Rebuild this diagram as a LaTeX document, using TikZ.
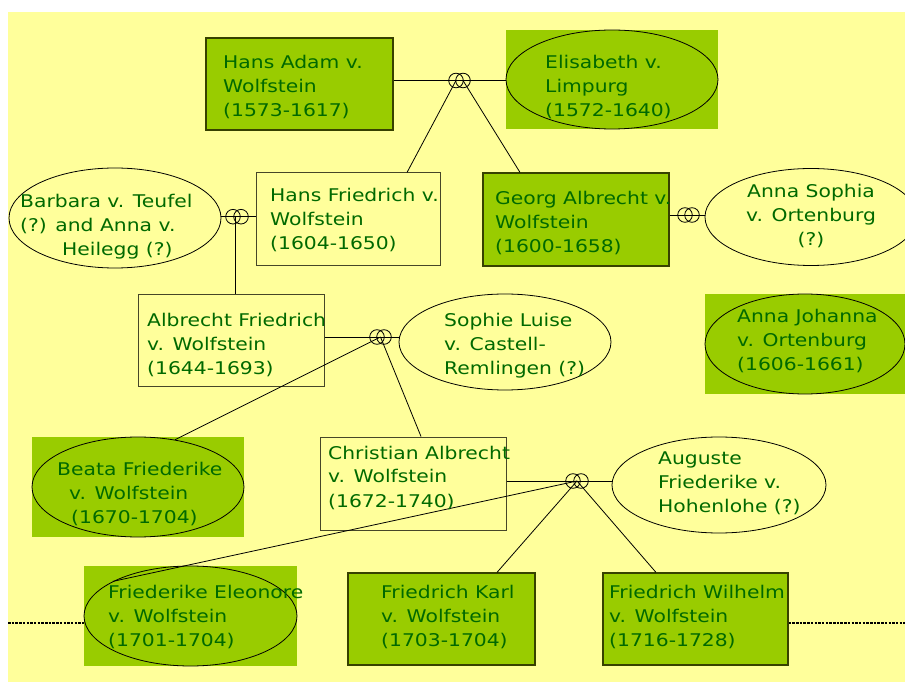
\documentclass[tikz,border=0pt]{standalone}
\usepackage{fontspec}
\setmainfont{DejaVu Sans}[FakeStretch=1.16]
\usetikzlibrary{shapes.geometric,calc}
\definecolor{bgy}{RGB}{255,255,155}
\definecolor{lgreen}{RGB}{153,204,0}
\definecolor{tgreen}{RGB}{0,105,0}
\definecolor{bdr}{RGB}{55,65,0}
\definecolor{gbdr}{RGB}{70,70,40}
\tikzset{
 txt/.style={inner sep=0pt, align=left, text=tgreen, font=\fontsize{17.5}{24}\selectfont},
 gbox/.style={draw=bdr, line width=1.2pt, fill=lgreen, inner sep=0pt, rectangle},
 pbox/.style={draw=gbdr, line width=1pt, inner sep=0pt, rectangle},
 gbg/.style={fill=lgreen, inner sep=0pt, rectangle},
 oval/.style={draw=black, line width=0.8pt, ellipse, inner sep=0pt},
 ring/.style={draw=black, line width=0.8pt, circle, inner sep=0pt, minimum size=14.6pt},
 conn/.style={draw=black, line width=0.8pt},
 dline/.style={draw=black, line width=1.5pt, dash pattern=on 2.5pt off 1.2pt},
}
\begin{document}
\begin{tikzpicture}[x=1pt,y=-1pt]
\useasboundingbox (0,0) rectangle (905,684);
\fill[white] (0,0) rectangle (905,684);
\fill[bgy] (8,12) rectangle (905,682);

% shapes
\node[gbox, minimum width=187pt, minimum height=92pt] (hansadam) at (299.5,84) {};
\node[gbg, minimum width=212pt, minimum height=99pt] (elisabethbg) at (612,79.5) {};
\node[oval, minimum width=212pt, minimum height=99pt] (elisabeth) at (612,79.5) {};
\node[pbox, minimum width=184pt, minimum height=93pt] (hansfriedrich) at (348,219.5) {};
\node[gbox, minimum width=186pt, minimum height=93pt] (georg) at (576,219.5) {};
\node[oval, minimum width=212pt, minimum height=97pt] (annasophia) at (811,217) {};
\node[gbg, minimum width=200pt, minimum height=100pt] (annajohannabg) at (805,344) {};
\node[oval, minimum width=200pt, minimum height=100pt] (annajohanna) at (805,344) {};
\node[oval, minimum width=212pt, minimum height=100pt] (barbara) at (115,218) {};
\node[pbox, minimum width=186pt, minimum height=92pt] (albrecht) at (231,341) {};
\node[oval, minimum width=212pt, minimum height=96pt] (sophie) at (505,342) {};
\node[gbg, minimum width=212pt, minimum height=100pt] (beatabg) at (138,487) {};
\node[oval, minimum width=212pt, minimum height=100pt] (beata) at (138,487) {};
\node[pbox, minimum width=186pt, minimum height=93pt] (christian) at (413,483.5) {};
\node[oval, minimum width=214pt, minimum height=96pt] (auguste) at (719,485) {};
\node[gbg, minimum width=213pt, minimum height=100pt] (febg) at (190.5,616) {};
\node[oval, minimum width=213pt, minimum height=100pt] (fe) at (190.5,616) {};
\node[gbox, minimum width=187pt, minimum height=92pt] (fk) at (441.5,619) {};
\node[gbox, minimum width=185pt, minimum height=92pt] (fw) at (695.5,619) {};

% marriage symbols
\node[ring] (m1a) at (456,80.5) {};
\node[ring] (m1b) at (463,80.5) {};
\node[ring] (m2a) at (233,216.7) {};
\node[ring] (m2b) at (241,216.7) {};
\coordinate (m2) at (235,216.7);
\node[ring] (m3a) at (685,215) {};
\node[ring] (m3b) at (692,215) {};
\node[ring] (m4a) at (377,337) {};
\node[ring] (m4b) at (384,337) {};
\coordinate (m4) at (380.5,337);
\node[ring] (m5a) at (573,481) {};
\node[ring] (m5b) at (581,481) {};
\coordinate (m5) at (577,481);

% connectors
\draw[conn] (hansadam.east |- m1a) -- (elisabeth.west |- m1a);
\draw[conn] (m1a.center) -- ([xshift=59pt]hansfriedrich.north);
\draw[conn] (m1b.center) -- ([xshift=-56pt]georg.north);
\draw[conn] (barbara.east |- m2a) -- (hansfriedrich.west |- m2a);
\draw[conn] (m2) -- (m2 |- albrecht.north);
\draw[conn] (georg.east |- m3a) -- (annasophia.west |- m3a);
\draw[conn] (albrecht.east |- m4a) -- (sophie.west |- m4a);
\draw[conn] (m4) -- (beata.52);
\draw[conn] (m4) -- ([xshift=8pt]christian.north);
\draw[conn] (christian.east |- m5a) -- (auguste.west |- m5a);
\draw[conn] (m5) -- (fe.156);
\draw[conn] (m5) -- ([xshift=55.5pt]fk.north);
\draw[conn] (m5) -- ([xshift=-39.5pt]fw.north);
\coordinate (dl) at (8,623);
\coordinate (dr) at (905,623);
\draw[dline] (dl) -- (febg.west |- dl);
\draw[dline] (fw.east |- dr) -- (dr);

% texts (base anchor = baseline of last line)
\node[txt, anchor=base west] (t1) at (223,117) {Hans Adam v.\\Wolfstein\\(1573-1617)};
\node[txt, anchor=base west] (t2) at (545,117) {Elisabeth v.\\Limpurg\\(1572-1640)};
\node[txt, anchor=base west] (t3) at (270,250) {Hans Friedrich v.\\Wolfstein\\(1604-1650)};
\node[txt, anchor=base west] (t4) at (495,253) {Georg Albrecht v.\\Wolfstein\\(1600-1658)};
\node[txt, align=center, anchor=base] (t5) at (811,246) {Anna Sophia\\v. Ortenburg\\(?)};
\node[txt, anchor=base west] (t6) at (737,371) {Anna Johanna\\v. Ortenburg\\(1606-1661)};
\node[txt, anchor=base west] (t7) at (20,256) {Barbara v. Teufel\\(?) and Anna v.\\\hspace*{42pt}Heilegg (?)};
\node[txt, anchor=base west] (t8) at (147,375) {Albrecht Friedrich\\v. Wolfstein\\(1644-1693)};
\node[txt, anchor=base west] (t9) at (444,375) {Sophie Luise\\v. Castell-\\Remlingen (?)};
\node[txt, anchor=base west] (t10) at (57,523) {Beata Friederike\\\hspace*{12pt}v. Wolfstein\\\hspace*{14pt}(1670-1704)};
\node[txt, anchor=base west] (t11) at (328,507) {Christian Albrecht\\v. Wolfstein\\(1672-1740)};
\node[txt, anchor=base west] (t12) at (658,512) {Auguste\\Friederike v.\\Hohenlohe (?)};
\node[txt, anchor=base west] (t13) at (108,646) {Friederike Eleonore\\v. Wolfstein\\(1701-1704)};
\node[txt, anchor=base west] (t14) at (381,646) {Friedrich Karl\\v. Wolfstein\\(1703-1704)};
\node[txt, anchor=base west] (t15) at (609,646) {Friedrich Wilhelm\\v. Wolfstein\\(1716-1728)};
\end{tikzpicture}
\end{document}
